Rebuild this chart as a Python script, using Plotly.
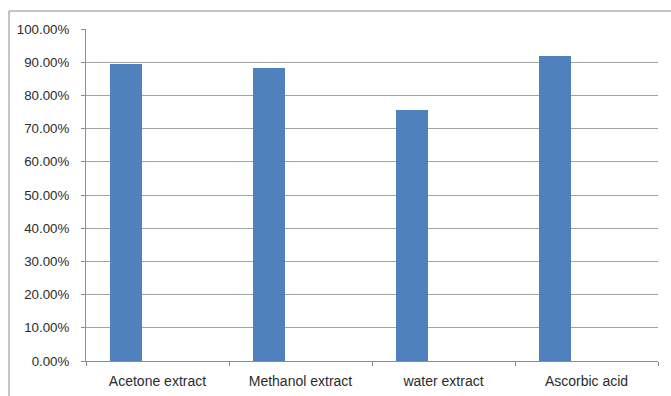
import plotly.graph_objects as go

# Extracts and their measured activity (fraction of 1)
categories = ["Acetone extract", "Methanol extract", "water extract", "Ascorbic acid"]
activity = [0.894, 0.882, 0.756, 0.919]
y_ticks = [i / 10 for i in range(11)]

BAR_COLOR = "#4f81bd"
GRID_COLOR = "#a3a3a3"
AXIS_COLOR = "#8c8c8c"
FAMILY = "Liberation Sans, Arial, sans-serif"
TEXT_COLOR = "#2b2b2b"

fig = go.Figure()
fig.add_trace(
    go.Bar(
        x=categories,
        y=activity,
        width=2 / 9,
        offset=-1 / 3,
        marker=dict(color=BAR_COLOR, line=dict(width=0)),
        showlegend=False,
        hoverinfo="x+y",
    )
)

fig.update_layout(
    width=671,
    height=396,
    margin=dict(l=86, r=13, t=29, b=35, autoexpand=False),
    paper_bgcolor="white",
    plot_bgcolor="white",
    font=dict(family=FAMILY, size=13, color=TEXT_COLOR),
    bargap=0,
    xaxis=dict(
        type="category",
        range=[-0.5, 3.5],
        automargin=False,
        showline=True,
        linecolor=AXIS_COLOR,
        linewidth=1,
        ticks="outside",
        tickson="boundaries",
        ticklen=4,
        tickcolor=AXIS_COLOR,
        showgrid=False,
        tickfont=dict(family=FAMILY, size=14, color=TEXT_COLOR),
        ticklabelstandoff=7,
    ),
    yaxis=dict(
        range=[0, 1],
        automargin=False,
        tickvals=y_ticks,
        tickformat=".2%",
        showline=True,
        linecolor=AXIS_COLOR,
        linewidth=1,
        ticks="outside",
        ticklen=4,
        tickcolor=AXIS_COLOR,
        showgrid=True,
        gridcolor=GRID_COLOR,
        gridwidth=1,
        zeroline=False,
        tickfont=dict(family=FAMILY, size=13.3, color=TEXT_COLOR),
        ticklabelstandoff=9,
    ),
    shapes=[
        # chart frame, running off the right and bottom of the page
        dict(
            type="rect",
            xref="paper",
            yref="paper",
            x0=(9 - 86) / 572,
            x1=1.2,
            y0=-0.3,
            y1=(361 - 11) / 332,
            line=dict(color="#8a8a8a", width=1),
            fillcolor="rgba(0,0,0,0)",
            layer="below",
        )
    ],
)

fig.write_html("out.html")
